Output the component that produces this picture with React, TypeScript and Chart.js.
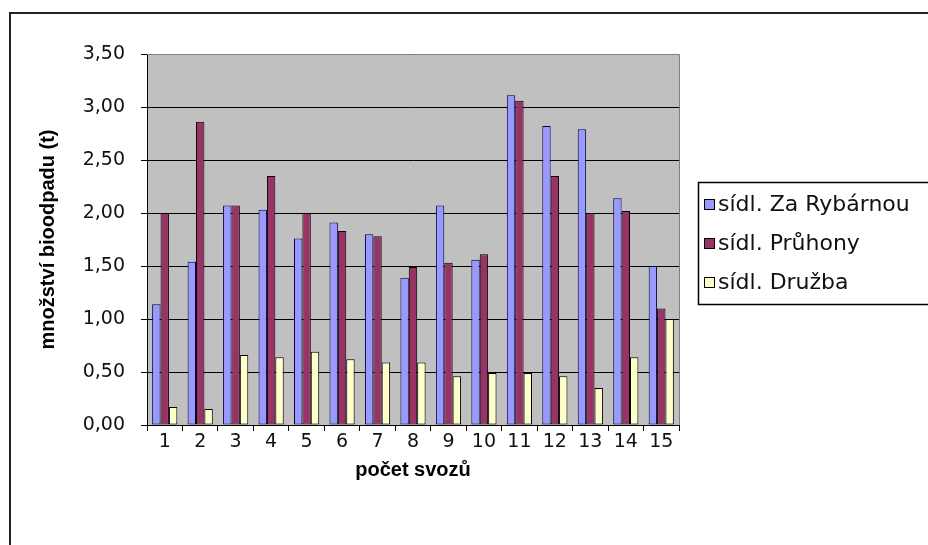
import React, { useEffect, useRef } from "react";
import { Chart, registerables } from "chart.js";

Chart.register(...registerables);

const categories = ["1", "2", "3", "4", "5", "6", "7", "8", "9", "10", "11", "12", "13", "14", "15"];
const zaRybarnou = [1.14, 1.54, 2.07, 2.03, 1.76, 1.91, 1.80, 1.39, 2.07, 1.56, 3.11, 2.82, 2.79, 2.14, 1.50];
const pruhony = [2.0, 2.86, 2.07, 2.35, 2.0, 1.83, 1.78, 1.49, 1.53, 1.61, 3.06, 2.35, 2.0, 2.02, 1.10];
const druzba = [0.17, 0.15, 0.66, 0.64, 0.69, 0.62, 0.59, 0.59, 0.46, 0.49, 0.49, 0.46, 0.35, 0.64, 1.0];
const seriesLabels = ["sídl. Za Rybárnou", "sídl. Průhony", "sídl. Družba"];
const seriesColors = ["#9999FF", "#993366", "#FFFFCC"];
const yTitle = "množství bioodpadu (t)";
const xTitle = "počet svozů";

const FONT = "'DejaVu Sans', Verdana, sans-serif";
const BOLD_FONT = "'Liberation Sans', Arial, sans-serif";

export default function App() {
  const ref = useRef<HTMLCanvasElement | null>(null);

  useEffect(() => {
    document.body.style.margin = "0";
    const canvas = ref.current;
    if (!canvas) return;

    const bgPlugin = {
      id: "bgPlugin",
      beforeDraw(chart: any) {
        const { ctx, chartArea } = chart;
        ctx.save();
        ctx.fillStyle = "#ffffff";
        ctx.fillRect(0, 0, chart.width, chart.height);
        ctx.fillStyle = "#C0C0C0";
        ctx.fillRect(chartArea.left, chartArea.top, chartArea.right - chartArea.left, chartArea.bottom - chartArea.top);
        ctx.restore();
      },
      afterDraw(chart: any) {
        const { ctx, chartArea } = chart;
        ctx.save();
        // plot area border (top/right)
        ctx.strokeStyle = "#808080";
        ctx.lineWidth = 1;
        ctx.beginPath();
        ctx.moveTo(chartArea.left, chartArea.top + 0.5);
        ctx.lineTo(chartArea.right + 0.5, chartArea.top + 0.5);
        ctx.lineTo(chartArea.right + 0.5, chartArea.bottom);
        ctx.stroke();
        // outer frame (top and left)
        ctx.strokeStyle = "#222";
        ctx.lineWidth = 2;
        ctx.beginPath();
        ctx.moveTo(10, chart.height + 5);
        ctx.lineTo(10, 13);
        ctx.lineTo(chart.width + 5, 13);
        ctx.stroke();
        // legend
        ctx.strokeStyle = "#000";
        ctx.lineWidth = 1.5;
        ctx.strokeRect(698.5, 182.5, 260, 122);
        ctx.font = `22px ${FONT}`;
        ctx.textBaseline = "middle";
        ctx.textAlign = "left";
        chart.data.datasets.forEach((ds: any, i: number) => {
          const y = 204 + i * 39;
          ctx.fillStyle = ds.backgroundColor;
          ctx.fillRect(704, y - 5, 10, 10);
          ctx.lineWidth = 1;
          ctx.strokeStyle = "#000";
          ctx.strokeRect(704.5, y - 4.5, 10, 10);
          ctx.fillStyle = "#111";
          ctx.fillText(ds.label, 718, y + 1);
        });
        ctx.restore();
      },
    };

    const chart = new Chart(canvas, {
      type: "bar",
      data: {
        labels: categories,
        datasets: [zaRybarnou, pruhony, druzba].map((d, i) => ({
          label: seriesLabels[i],
          data: d,
          backgroundColor: seriesColors[i],
          borderColor: i === 0 ? "#000040" : "#000",
          borderWidth: 1,
          borderSkipped: false,
          categoryPercentage: 0.71,
          barPercentage: 1.0,
        })),
      },
      options: {
        responsive: true,
        maintainAspectRatio: false,
        animation: false,
        layout: { padding: { top: 54, right: 249, left: 0, bottom: 0 } },
        plugins: {
          legend: { display: false },
          tooltip: { enabled: false },
        },
        scales: {
          x: {
            type: "category",
            grid: {
              offset: true,
              drawOnChartArea: false,
              drawTicks: true,
              tickLength: 6,
              color: "#000",
            },
            border: { color: "#000", width: 1 },
            ticks: {
              color: "#111",
              font: { family: FONT, size: 19 },
              padding: 0,
              maxRotation: 0,
              autoSkip: false,
            },
            title: {
              display: true,
              text: xTitle,
              color: "#000",
              font: { family: BOLD_FONT, size: 20, weight: "bold" },
              padding: { top: 4, bottom: 63 },
            },
            afterFit(scale: any) {
              scale.height = 120;
            },
          },
          y: {
            min: 0,
            max: 3.5,
            ticks: {
              stepSize: 0.5,
              color: "#111",
              font: { family: FONT, size: 19 },
              padding: 16,
              callback: (v: any) => Number(v).toFixed(2).replace(".", ","),
            },
            grid: {
              color: "#000",
              lineWidth: 1,
              tickLength: 6,
              drawTicks: true,
            },
            border: { color: "#000", width: 1 },
            title: {
              display: true,
              text: yTitle,
              color: "#000",
              font: { family: BOLD_FONT, size: 20, weight: "bold" },
              padding: { top: 36, bottom: 0 },
            },
            afterFit(scale: any) {
              scale.width = 147;
            },
          },
        },
      },
      plugins: [bgPlugin],
    });

    return () => chart.destroy();
  }, []);

  return (
    <div style={{ position: "absolute", left: 0, top: 0, width: 928, height: 545 }}>
      <canvas ref={ref} />
    </div>
  );
}
